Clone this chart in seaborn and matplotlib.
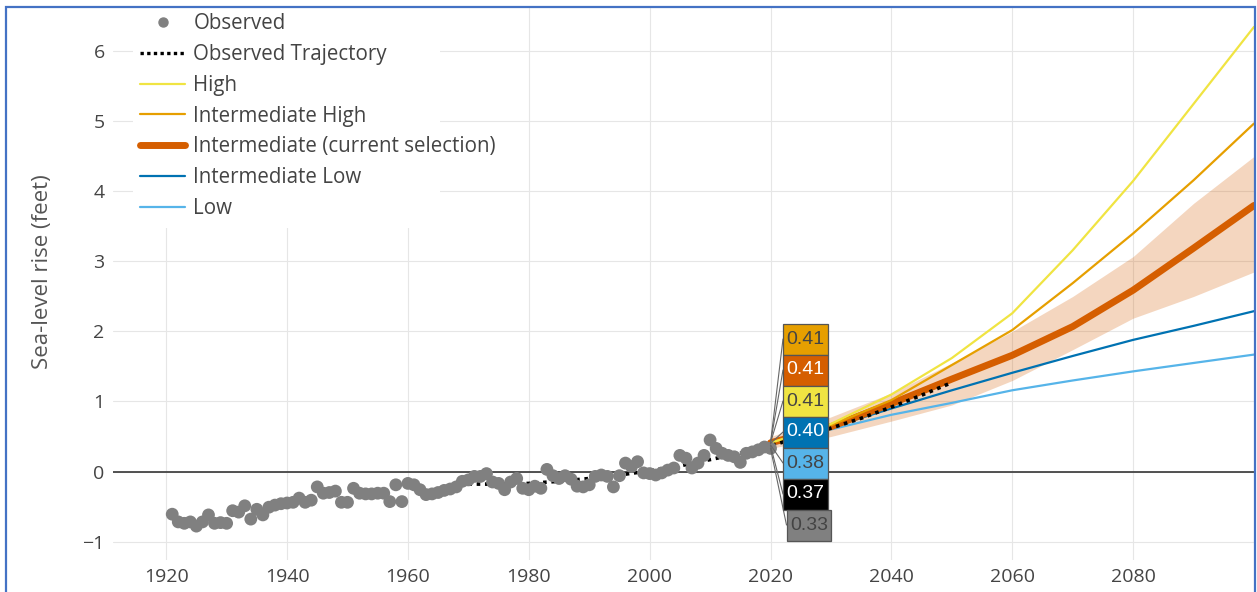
import matplotlib
matplotlib.use("Agg")
import matplotlib.pyplot as plt
import numpy as np
import pandas as pd
import seaborn as sns
from matplotlib.patches import Rectangle
from matplotlib.lines import Line2D

# ---------------------------------------------------------------- data
obs_years = list(range(1921, 2021))
obs_values = [
    -0.61, -0.72, -0.74, -0.72, -0.78, -0.72, -0.62, -0.74, -0.73, -0.74,   # 1921-1930
    -0.56, -0.58, -0.49, -0.68, -0.54, -0.62, -0.51, -0.48, -0.46, -0.45,   # 1931-1940
    -0.44, -0.38, -0.44, -0.41, -0.22, -0.31, -0.30, -0.28, -0.44, -0.44,   # 1941-1950
    -0.24, -0.31, -0.32, -0.32, -0.31, -0.31, -0.43, -0.19, -0.43, -0.17,   # 1951-1960
    -0.19, -0.26, -0.33, -0.32, -0.30, -0.27, -0.25, -0.22, -0.14, -0.12,   # 1961-1970
    -0.07, -0.07, -0.03, -0.15, -0.17, -0.26, -0.15, -0.10, -0.24, -0.26,   # 1971-1980
    -0.21, -0.24, 0.03, -0.06, -0.10, -0.06, -0.11, -0.21, -0.22, -0.19,    # 1981-1990
    -0.07, -0.05, -0.07, -0.22, -0.06, 0.12, 0.07, 0.14, -0.02, -0.03,      # 1991-2000
    -0.05, -0.02, 0.02, 0.05, 0.23, 0.19, 0.05, 0.12, 0.23, 0.45,           # 2001-2010
    0.33, 0.26, 0.23, 0.21, 0.13, 0.26, 0.28, 0.31, 0.35, 0.33,             # 2011-2020
]

traj_years = [1970, 1975, 1980, 1985, 1990, 1995, 2000, 2005, 2010,
              2015, 2020, 2025, 2030, 2035, 2040, 2045, 2050]
traj_values = [-0.18, -0.18, -0.17, -0.14, -0.10, -0.05, 0.01, 0.08, 0.17,
               0.26, 0.37, 0.49, 0.62, 0.76, 0.92, 1.09, 1.27]

proj_years = [2020, 2030, 2040, 2050, 2060, 2070, 2080, 2090, 2100]
high = [0.41, 0.68, 1.10, 1.62, 2.26, 3.16, 4.15, 5.25, 6.35]
int_high = [0.41, 0.66, 1.02, 1.52, 2.02, 2.69, 3.40, 4.16, 4.97]
intermediate = [0.41, 0.64, 0.97, 1.32, 1.66, 2.07, 2.59, 3.19, 3.80]
int_low = [0.40, 0.63, 0.90, 1.16, 1.41, 1.65, 1.88, 2.08, 2.29]
low = [0.38, 0.60, 0.81, 0.98, 1.16, 1.30, 1.43, 1.55, 1.67]
int_lower = [0.33, 0.50, 0.72, 0.95, 1.30, 1.74, 2.19, 2.50, 2.85]
int_upper = [0.50, 0.78, 1.12, 1.55, 2.00, 2.50, 3.07, 3.83, 4.50]

y_ticks = [-1, 0, 1, 2, 3, 4, 5, 6]
x_ticks = [1920, 1940, 1960, 1980, 2000, 2020, 2040, 2060, 2080]

# ---------------------------------------------------------------- style
C_HIGH = "#f0e442"
C_IHIGH = "#e69f00"
C_INT = "#d55e00"
C_ILOW = "#0072b2"
C_LOW = "#56b4e9"
C_OBS = "#808080"
TXT = "#444444"

sns.set_theme(style="whitegrid")
plt.rcParams["font.family"] = ["Open Sans", "DejaVu Sans"]

W, H = 1257, 592
AX_L, AX_R, AX_T, AX_B = 113, 1254, 8, 560
fig = plt.figure(figsize=(W / 100, H / 100), dpi=100)
fig.patch.set_facecolor("white")
ax = fig.add_axes([AX_L / W, (H - AX_B) / H, (AX_R - AX_L) / W, (AX_B - AX_T) / H])
ax.set_facecolor("white")


def px_to_axes(x, y):
    """Pixel position on the canvas -> axes fraction."""
    return (x - AX_L) / (AX_R - AX_L), (AX_B - y) / (AX_B - AX_T)


for s in ax.spines.values():
    s.set_visible(False)
ax.grid(True, color="#e6e6e6", lw=0.8)
ax.set_axisbelow(True)
ax.tick_params(axis="both", length=0, colors=TXT, labelsize=14)
ax.tick_params(axis="y", pad=6)
ax.tick_params(axis="x", pad=6)

ax.set_xlim(1911.2, 2100)
ax.set_ylim(-1.264, 6.62)
ax.set_xticks(x_ticks)
ax.set_yticks(y_ticks)

ax.axhline(0, color="#444444", lw=1.3, zorder=1)

# white backing of the legend area (hides the grid behind it)
lx, ly = px_to_axes(133, 228)
rx, ry = px_to_axes(440, 5)
ax.add_patch(Rectangle((lx, ly), rx - lx, ry - ly, transform=ax.transAxes,
                       fc="white", ec="none", zorder=1.2))

# uncertainty band of the intermediate scenario
ax.fill_between(proj_years, int_lower, int_upper, color=C_INT, alpha=0.25,
                lw=0, zorder=2)

proj = pd.DataFrame({"year": proj_years, "High": high,
                     "Intermediate High": int_high, "Intermediate": intermediate,
                     "Intermediate Low": int_low, "Low": low})

for name, color, lw in [("Low", C_LOW, 1.6), ("Intermediate Low", C_ILOW, 1.6),
                        ("Intermediate", C_INT, 5.0),
                        ("Intermediate High", C_IHIGH, 1.6), ("High", C_HIGH, 1.6)]:
    sns.lineplot(data=proj, x="year", y=name, color=color, lw=lw, ax=ax,
                 estimator=None, zorder=3)

traj = pd.DataFrame({"year": traj_years, "value": traj_values})
sns.lineplot(data=traj, x="year", y="value", color="black", lw=2.6,
             linestyle=(0, (1, 1.3)), ax=ax, estimator=None, zorder=4)

obs = pd.DataFrame({"year": obs_years, "value": obs_values})
sns.scatterplot(data=obs, x="year", y="value", color=C_OBS, s=85,
                edgecolor="none", ax=ax, zorder=5)
ax.set_xlabel("")
ax.set_ylabel("Sea-level rise (feet)", fontsize=16, color="#555555")
ax.yaxis.set_label_coords(*px_to_axes(53, 272))

# ---------------------------------------------------------------- legend
handles = [
    Line2D([], [], ls="none", marker="o", color=C_OBS, markersize=6.5),
    Line2D([], [], color="black", lw=2.4, ls=(0, (1, 1.0))),
    Line2D([], [], color=C_HIGH, lw=1.6),
    Line2D([], [], color=C_IHIGH, lw=1.6),
    Line2D([], [], color=C_INT, lw=5.0),
    Line2D([], [], color=C_ILOW, lw=1.6),
    Line2D([], [], color=C_LOW, lw=1.6),
]
labels = ["Observed", "Observed Trajectory", "High", "Intermediate High",
          "Intermediate (current selection)", "Intermediate Low", "Low"]
leg = ax.legend(handles, labels, loc="upper left",
                bbox_to_anchor=(140 / W, 1 - 13 / H), bbox_transform=fig.transFigure,
                frameon=False, fontsize=14.8, handlelength=2.2, handletextpad=0.4,
                labelspacing=0.48, borderpad=0, borderaxespad=0)
for t in leg.get_texts():
    t.set_color(TXT)
leg.set_zorder(6)

# ---------------------------------------------------------------- hover labels at 2020
traj_2020 = traj_values[traj_years.index(2020)]
hover = [
    (int_high[0], C_IHIGH, TXT),
    (intermediate[0], C_INT, "white"),
    (high[0], C_HIGH, TXT),
    (int_low[0], C_ILOW, "white"),
    (low[0], C_LOW, TXT),
    (traj_2020, "black", "white"),
    (obs_values[-1], C_OBS, TXT),
]
BOX_W, BOX_H = 45, 31
for i, (val, fc, tc) in enumerate(hover):
    cx = 805.5 if i < 6 else 809
    cy = 339 + 31 * i
    x0, y0 = px_to_axes(cx - BOX_W / 2, cy + BOX_H / 2)
    x1, y1 = px_to_axes(cx + BOX_W / 2, cy - BOX_H / 2)
    ax.annotate("", xy=(2020, val), xytext=px_to_axes(cx - BOX_W / 2, cy),
                textcoords="axes fraction",
                arrowprops=dict(arrowstyle="-", color="#666666", lw=0.8,
                                shrinkA=0, shrinkB=0), zorder=9)
    ax.add_patch(Rectangle((x0, y0), x1 - x0, y1 - y0, transform=ax.transAxes,
                           fc=fc, ec="#555555", lw=0.9, zorder=10))
    ax.text(*px_to_axes(cx, cy), f"{val:.2f}", transform=ax.transAxes,
            ha="center", va="center", fontsize=14, color=tc,
            family=["Liberation Sans", "DejaVu Sans"], zorder=11)

# frame around the figure
fig.add_artist(Rectangle((6 / W, -0.1), (1255 - 6) / W, (1 - 7 / H) + 0.1,
                         transform=fig.transFigure, fill=False,
                         ec="#4472c4", lw=1.6, zorder=20))

fig.savefig("out.png", dpi=100)
